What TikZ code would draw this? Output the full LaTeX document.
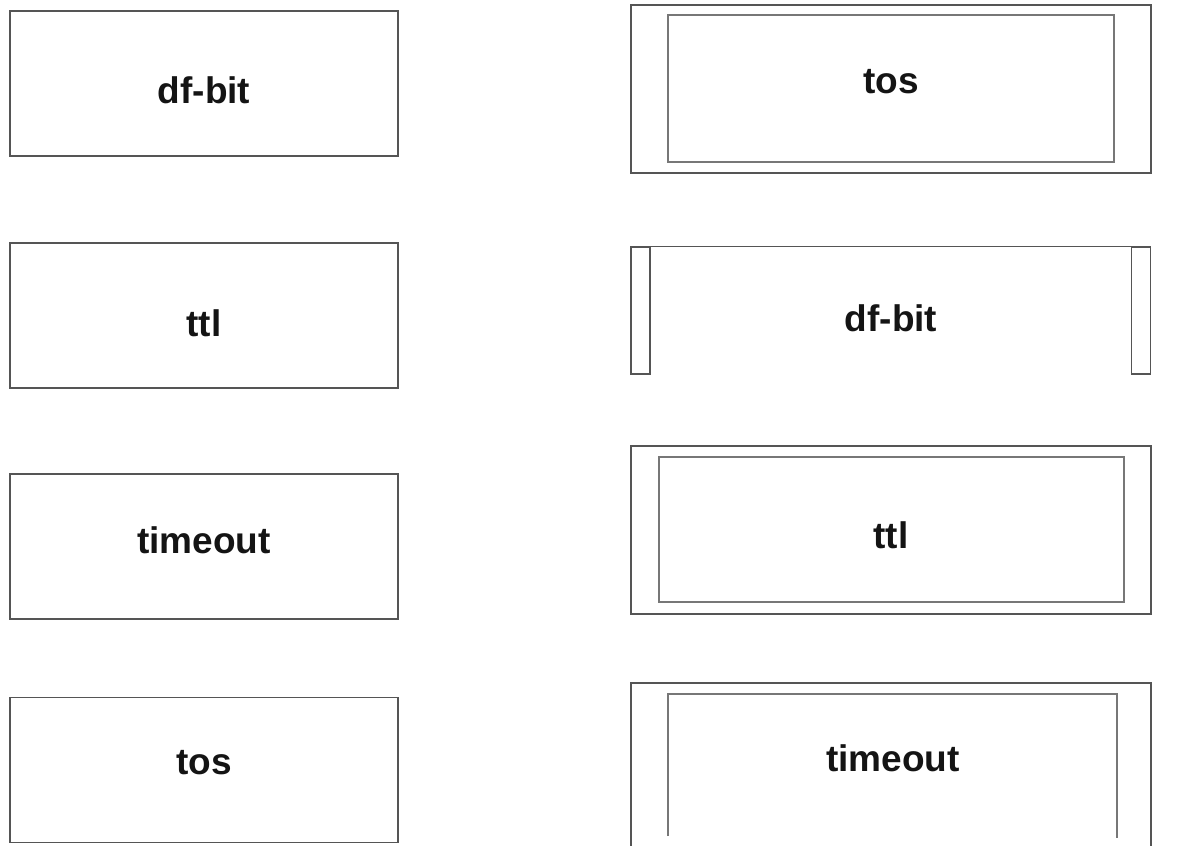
\documentclass[tikz,border=0pt]{standalone}
\usepackage{fontspec}
\setmainfont{Liberation Sans}
\usepackage{tikz}
\usetikzlibrary{positioning}
\definecolor{frameG}{HTML}{555555}
\definecolor{innerG}{HTML}{777777}

\begin{document}
\begin{tikzpicture}[x=1pt,y=-1pt,
  lbl/.style={font=\bfseries\fontsize{37}{40}\selectfont,text=black!92},
  slot/.style={draw=frameG,line width=1.6pt,minimum width=388pt,minimum height=145pt,inner sep=0pt},
  outer/.style={draw=frameG,line width=1.6pt,minimum width=520pt,minimum height=168pt,inner sep=0pt},
  inner/.style={draw=innerG,line width=1.4pt,inner sep=0pt},
  bar/.style={draw=frameG,line width=1.4pt,minimum width=19pt,minimum height=127pt,inner sep=0pt}]
\useasboundingbox (0,0) rectangle (1184,846);
% left column: the items
\foreach \n/\y/\ty/\lab in {a/83.5/90/df-bit,b/315.5/323/ttl,c/546.5/540/timeout,d/770/763/tos}{
  \node[slot] (left\n) at (204,\y) {};
  \node[lbl] (leftT\n) at (204,\ty) {\lab};
}
% right column: tos
\node[outer] (tosO) at (891,89) {};
\node[inner,minimum width=446pt,minimum height=147pt] (tosI) at (891,88.5) {};
\node[lbl] (tosT) at (891,82) {tos};
% right column: df-bit
\node[bar] (dfL) at (640.5,310.5) {};
\node[bar] (dfR) at (1141,310.5) {};
\draw[frameG,line width=1.4pt] (dfL.north east) -- (dfR.north west);
\node[lbl] (dfT) at (891,318) {df-bit};
% right column: ttl
\node[outer] (ttlO) at (891,530) {};
\node[inner,minimum width=465pt,minimum height=145pt] (ttlI) at (891.5,529.5) {};
\node[lbl] (ttlT) at (891,535) {ttl};
% right column: timeout, cut off at the bottom
\draw[frameG,line width=1.6pt] (631,850) -- (631,683) -- (1151,683) -- (1151,850);
\draw[innerG,line width=1.4pt] (668,836) -- (668,694) -- (1117,694) -- (1117,838);
\node[lbl] (toT) at (893,758) {timeout};
\end{tikzpicture}
\end{document}
